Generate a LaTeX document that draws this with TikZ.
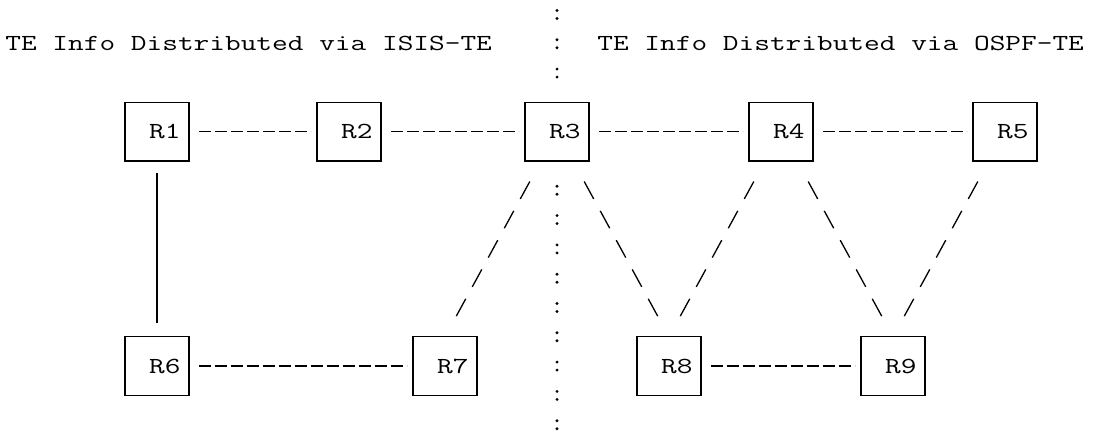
\documentclass[tikz,border=0pt]{standalone}
\usepackage{fontspec}
\usepackage{graphicx}
\usepackage{tikz}
\usetikzlibrary{calc}

\newcommand{\asciifont}{\ttfamily\fontsize{11.5pt}{13pt}\selectfont}
\newcommand{\asc}[1]{\scalebox{1.325}[1]{#1}}

\tikzset{
  router/.style={draw, rectangle, line width=0.65pt, minimum width=32pt, minimum height=29.3pt, inner sep=0pt, outer sep=0pt, font=\asciifont},
  link/.style={draw, line width=0.65pt, dash pattern=on 6pt off 2pt, dash phase=6pt, shorten <=3pt, shorten >=3pt},
  diag/.style={draw, line width=0.65pt, dash pattern=on 9.9pt off 6.8pt, shorten <=11.7pt, shorten >=11.7pt},
  divider/.style={draw, line width=1.6pt, line cap=round, dash pattern=on 0pt off 4pt on 0pt off 10.65pt, shorten >=6pt},
  title/.style={anchor=west, inner sep=0pt, font=\asciifont}
}

\begin{document}
\begin{tikzpicture}[x=8pt, y=-14.65pt]
 \useasboundingbox (-0.8125,-0.495) rectangle (67.8125,14.249);

 %titles
 \node[title] (isis) at (-0.5,1) {\asc{TE Info Distributed via ISIS-TE}};
 \node[title] (ospf) at (36.5,1) {\asc{TE Info Distributed via OSPF-TE}};

 %top row
 \node[router] (r1) at (9,4) {\asc{~R1}};
 \node[router] (r2) at (21,4) {\asc{~R2}};
 \node[router] (r3) at (34,4) {\asc{~R3}};
 \node[router] (r4) at (48,4) {\asc{~R4}};
 \node[router] (r5) at (62,4) {\asc{~R5}};

 %bottom row
 \node[router] (r6) at (9,12) {\asc{~R6}};
 \node[router] (r7) at (27,12) {\asc{~R7}};
 \node[router] (r8) at (41,12) {\asc{~R8}};
 \node[router] (r9) at (55,12) {\asc{~R9}};

 %divider
 \coordinate (divtop) at (34,-0.1365);
 \coordinate (divbot) at (34,14.1365);
 \path[divider] (divtop) -- (r3.north);
 \path[divider] (divbot) -- (r3.south);

 %links
 \path[link] (r1.east) -- (r2.west);
 \path[link] (r2.east) -- (r3.west);
 \path[link] (r3.east) -- (r4.west);
 \path[link] (r4.east) -- (r5.west);
 \path[link] (r6.east) -- (r7.west);
 \path[link] (r8.east) -- (r9.west);

 \path[draw, line width=0.65pt, shorten <=6pt, shorten >=7pt] (r1.south) -- (r6.north);

 %slants
 \path[diag] ($(r3.south)!0.5!(r3.south west)$) -- (r7.north);
 \path[diag] ($(r3.south)!0.5!(r3.south east)$) -- (r8.north);
 \path[diag] ($(r4.south)!0.5!(r4.south west)$) -- (r8.north);
 \path[diag] ($(r4.south)!0.5!(r4.south east)$) -- (r9.north);
 \path[diag] ($(r5.south)!0.5!(r5.south west)$) -- (r9.north);
\end{tikzpicture}
\end{document}
